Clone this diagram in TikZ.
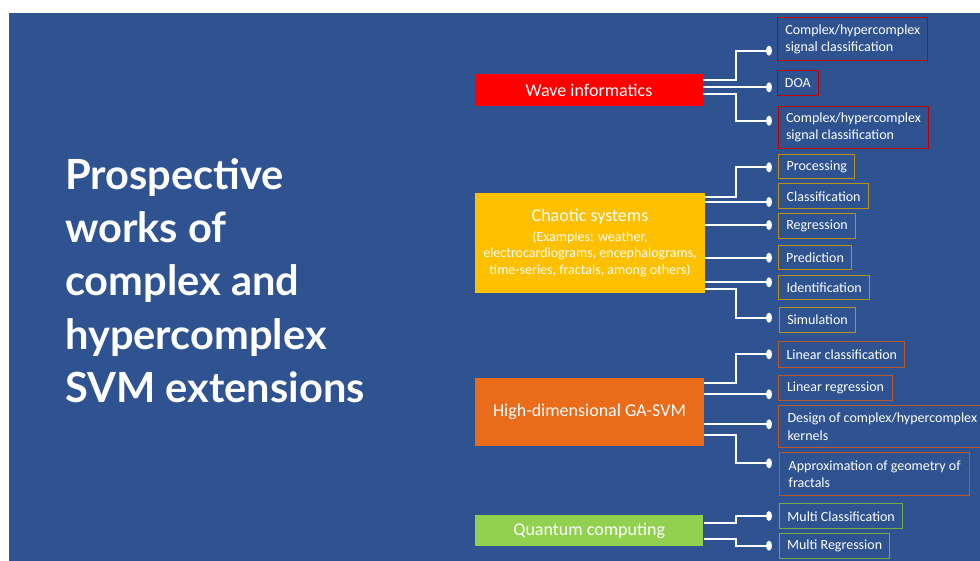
\documentclass[tikz,border=0pt]{standalone}
\usepackage{fontspec}
\setmainfont{Carlito}
\newfontfamily\titlefont{Lato}
\usetikzlibrary{shapes.geometric}

\definecolor{slide}{HTML}{2F5291}
\definecolor{wavefill}{HTML}{FF0000}
\definecolor{waveline}{HTML}{C00000}
\definecolor{chaosfill}{HTML}{FFC000}
\definecolor{chaosline}{HTML}{B8901A}
\definecolor{gafill}{HTML}{EA6B1A}
\definecolor{galine}{HTML}{B65A2E}
\definecolor{qfill}{HTML}{92D050}
\definecolor{qline}{HTML}{70AD47}

\begin{document}
\begin{tikzpicture}[x=1pt,y=-1pt,
  hub/.style={text=white, font=\fontsize{18}{21}\selectfont, inner sep=0pt, align=center},
  leaf/.style={draw, line width=1pt, anchor=north west, inner sep=0pt, align=left,
    text=white, font=\fontsize{14}{17.3}\selectfont},
  dot/.style={ellipse, fill=white, minimum width=6pt, minimum height=10pt, inner sep=0pt},
  conn/.style={draw=white, line width=2pt},
  heading/.style={text=white, anchor=north west, inner sep=0pt, align=left,
    font=\titlefont\bfseries\fontsize{41.6}{53.3}\selectfont}]

\useasboundingbox (0,0) rectangle (980,561);
\fill[white] (0,0) rectangle (980,561);
\fill[slide] (9,13) rectangle (980,561);

\begin{scope}
\clip (0,0) rectangle (980,561);

% title
\node[heading] (title) at (65,158) {Prospective\\works of\\complex and\\hypercomplex\\SVM extensions};

% main topics
\node[hub, fill=wavefill, minimum width=228pt, minimum height=31.7pt] (wave) at (589,89.85) {Wave informatics};
\node[hub, fill=chaosfill, minimum width=230pt, minimum height=100pt,
      font=\fontsize{14}{16.7}\selectfont] (chaos) at (590,243.3)
  {{\fontsize{18}{21}\selectfont Chaotic systems}\\[2.6pt](Examples: weather,\\electrocardiograms, encephalograms,\\time-series, fractals, among others)};
\node[hub, fill=gafill, minimum width=229pt, minimum height=67.4pt] (ga) at (589.5,412) {High-dimensional GA-SVM};
\node[hub, fill=qfill, minimum width=228.3pt, minimum height=31pt] (qc) at (589.2,530.5) {Quantum computing};

% wave informatics applications
\node[leaf, draw=waveline, minimum width=150pt, minimum height=42.7pt] (w1) at (777.3,17.3) {Complex/hypercomplex\\signal classification};
\node[leaf, draw=waveline, minimum width=40.7pt, minimum height=25pt] (w2) at (777,70.3) {DOA};
\node[leaf, draw=waveline, minimum width=150pt, minimum height=42pt] (w3) at (778,106) {Complex/hypercomplex\\signal classification};

% chaotic systems applications
\node[leaf, draw=chaosline, minimum width=76pt, minimum height=24.3pt] (c1) at (778.3,154) {Processing};
\node[leaf, draw=chaosline, minimum width=90.3pt, minimum height=25pt] (c2) at (778,183.3) {Classification};
\node[leaf, draw=chaosline, minimum width=77pt, minimum height=25pt] (c3) at (778,213.3) {Regression};
\node[leaf, draw=chaosline, minimum width=73pt, minimum height=24pt] (c4) at (778,245) {Prediction};
\node[leaf, draw=chaosline, minimum width=91.3pt, minimum height=24.3pt] (c5) at (778,275) {Identification};
\node[leaf, draw=chaosline, minimum width=76pt, minimum height=24.4pt] (c6) at (779,307.3) {Simulation};

% GA-SVM applications
\node[leaf, draw=galine, minimum width=126pt, minimum height=25.7pt] (g1) at (778.3,341) {Linear classification};
\node[leaf, draw=galine, minimum width=113.4pt, minimum height=25pt] (g2) at (778.3,375) {Linear regression};
\node[leaf, draw=galine, minimum width=207pt, minimum height=42.3pt] (g3) at (778.3,405) {Design of complex/hypercomplex\\kernels};
\node[leaf, draw=galine, minimum width=190.3pt, minimum height=42.7pt] (g4) at (779,452.3) {Approximation of geometry of\\fractals};

% quantum computing applications
\node[leaf, draw=qline, minimum width=123.3pt, minimum height=25pt] (q1) at (779,503.3) {Multi Classification};
\node[leaf, draw=qline, minimum width=110.3pt, minimum height=24.4pt] (q2) at (779,533.3) {Multi Regression};

% connector end points
\coordinate (bend) at (736,0);
\foreach \n/\y in {dw1/50.7, dw2/87.3, dw3/120.7,
                   dc1/167.3, dc2/202, dc3/225, dc4/257.7, dc5/282.3, dc6/317.7,
                   dg1/354.3, dg2/394.3, dg3/424.3, dg4/463.3,
                   dq1/516, dq2/545.7}
  \coordinate (\n) at (769,\y);

% connectors
\draw[conn] (wave.east |- 0,80) -| (bend |- dw1) -- (dw1);
\draw[conn] (wave.east |- dw2) -- (dw2);
\draw[conn] (wave.east |- 0,94) -| (bend |- dw3) -- (dw3);

\draw[conn] (chaos.east |- 0,196.7) -| (bend |- dc1) -- (dc1);
\draw[conn] (chaos.east |- dc2) -- (dc2);
\draw[conn] (chaos.east |- dc3) -- (dc3);
\draw[conn] (chaos.east |- dc4) -- (dc4);
\draw[conn] (chaos.east |- dc5) -- (dc5);
\draw[conn] (chaos.east |- 0,289.3) -| (bend |- dc6) -- (dc6);

\draw[conn] (ga.east |- 0,383.3) -| (bend |- dg1) -- (dg1);
\draw[conn] (ga.east |- dg2) -- (dg2);
\draw[conn] (ga.east |- dg3) -- (dg3);
\draw[conn] (ga.east |- 0,435) -| (bend |- dg4) -- (dg4);

\draw[conn] (qc.east |- 0,523.3) -| (bend |- dq1) -- (dq1);
\draw[conn] (qc.east |- 0,539.3) -| (bend |- dq2) -- (dq2);

% round ends of the connectors
\foreach \n in {dw1,dw2,dw3,dc1,dc2,dc3,dc4,dc5,dc6,dg1,dg2,dg3,dg4,dq1,dq2}
  \node[dot] at (\n) {};
\end{scope}
\end{tikzpicture}
\end{document}
